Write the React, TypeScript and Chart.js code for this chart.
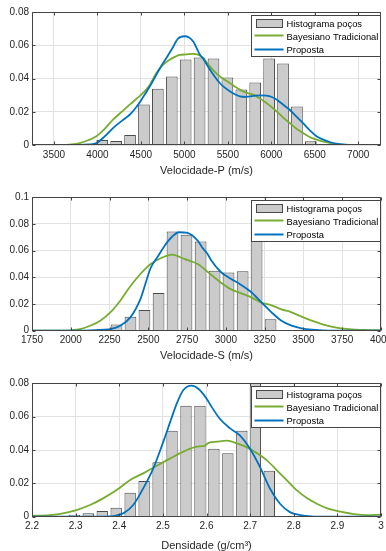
import React, { useEffect, useRef } from "react";
import { Chart, registerables } from "chart.js";

Chart.register(...registerables);

const FONT_FAMILY = '"Liberation Sans", Arial, Helvetica, sans-serif';
const TEXT_COLOR = "#262626";
const AXIS_COLOR = "#444444";
const GRID_COLOR = "#e2e2e2";
const BAR_FILL = "#cbcbcb";
const BAR_EDGE = "#4a4a4a";
const GREEN = "#77ac30";
const BLUE = "#0072bd";

const LEGEND_LABELS = ["Histograma poços", "Bayesiano Tradicional", "Proposta"];

// ---- Velocidade-P ----
const pTicks = [3500, 4000, 4500, 5000, 5500, 6000, 6500, 7000];
const pBinCenters = [4055, 4215, 4375, 4535, 4695, 4855, 5015, 5175, 5335, 5495, 5655, 5815, 5975, 6135, 6295, 6455, 6615];
const pHistogram = [0.003, 0.0024, 0.006, 0.0244, 0.0338, 0.0412, 0.0514, 0.0526, 0.052, 0.0406, 0.0334, 0.0376, 0.052, 0.049, 0.0232, 0.0022, 0.0004];
const pBayesX = [3247, 3600, 3700, 3796, 3900, 3988, 4080, 4179, 4280, 4371, 4450, 4524, 4600, 4678, 4750, 4831, 4890, 4946, 5020, 5100, 5150, 5215, 5292, 5350, 5407, 5465, 5522, 5580, 5637, 5710, 5790, 5870, 5944, 6000, 6059, 6130, 6212, 6290, 6365, 6440, 6520, 6600, 6673, 6750, 6850, 7000, 7262];
const pBayesY = [0, 0, 0.0004, 0.0012, 0.003, 0.0052, 0.0095, 0.0152, 0.02, 0.0243, 0.0278, 0.0313, 0.036, 0.0433, 0.048, 0.0513, 0.053, 0.0542, 0.0545, 0.0548, 0.0545, 0.0523, 0.0473, 0.044, 0.0413, 0.0393, 0.0373, 0.0352, 0.0333, 0.0315, 0.0303, 0.028, 0.0253, 0.023, 0.0203, 0.0168, 0.0132, 0.0098, 0.0072, 0.0048, 0.0032, 0.002, 0.0012, 0.0005, 0.0001, 0, 0];
const pPropostaX = [3247, 3800, 3900, 3988, 4080, 4179, 4280, 4371, 4450, 4524, 4600, 4678, 4740, 4793, 4860, 4927, 5004, 5050, 5100, 5177, 5215, 5292, 5350, 5407, 5465, 5522, 5580, 5637, 5710, 5790, 5870, 5944, 6000, 6059, 6130, 6212, 6290, 6365, 6440, 6520, 6600, 6673, 6750, 6826, 6900, 7000, 7262];
const pPropostaY = [0, 0, 0.0003, 0.0012, 0.005, 0.0102, 0.0145, 0.0182, 0.023, 0.0287, 0.035, 0.0423, 0.048, 0.0523, 0.058, 0.064, 0.0654, 0.0648, 0.0624, 0.0545, 0.052, 0.0455, 0.041, 0.0373, 0.0345, 0.0323, 0.0305, 0.0293, 0.029, 0.0295, 0.0299, 0.0297, 0.029, 0.0273, 0.0245, 0.0212, 0.017, 0.0132, 0.009, 0.0052, 0.0032, 0.0018, 0.0008, 0.0003, 0.0001, 0, 0];

// ---- Velocidade-S ----
const sTicks = [1750, 2000, 2250, 2500, 2750, 3000, 3250, 3500, 3750, 4000];
const sBinCenters = [2114, 2204, 2295, 2385, 2475, 2566, 2656, 2746, 2837, 2927, 3017, 3108, 3198, 3288];
const sHistogram = [0.0008, 0.0015, 0.0047, 0.0105, 0.0155, 0.0283, 0.0743, 0.072, 0.0668, 0.045, 0.0437, 0.0445, 0.0843, 0.0085];
const sBayesX = [1750, 1951, 2000, 2060, 2125, 2190, 2255, 2319, 2384, 2449, 2515, 2580, 2655, 2731, 2818, 2904, 2969, 3034, 3099, 3164, 3229, 3294, 3358, 3423, 3488, 3553, 3618, 3704, 3791, 3921, 4000];
const sBayesY = [0, 0, 0.0003, 0.0012, 0.0037, 0.0075, 0.0137, 0.0225, 0.0333, 0.0425, 0.05, 0.0543, 0.057, 0.0538, 0.05, 0.042, 0.036, 0.031, 0.028, 0.025, 0.021, 0.019, 0.016, 0.0138, 0.0105, 0.0075, 0.005, 0.0025, 0.0012, 0.0005, 0.0003];
const sPropostaX = [1750, 2050, 2168, 2255, 2319, 2384, 2449, 2515, 2558, 2601, 2645, 2698, 2753, 2818, 2850, 2882, 2904, 2969, 3034, 3099, 3164, 3229, 3294, 3358, 3423, 3488, 3553, 3620, 3700, 4000];
const sPropostaY = [0, 0, 0.0005, 0.0012, 0.0037, 0.01, 0.0237, 0.047, 0.055, 0.063, 0.0695, 0.0738, 0.0733, 0.0675, 0.062, 0.0575, 0.053, 0.0438, 0.0388, 0.0343, 0.0288, 0.0213, 0.0138, 0.0075, 0.0038, 0.0018, 0.0007, 0.0002, 0, 0];

// ---- Densidade ----
const dTicks = [2.2, 2.3, 2.4, 2.5, 2.6, 2.7, 2.8, 2.9, 3];
const dBinCenters = [2.265, 2.297, 2.329, 2.361, 2.393, 2.425, 2.457, 2.489, 2.521, 2.553, 2.585, 2.617, 2.649, 2.681, 2.712, 2.744, 2.776];
const dHistogram = [0.0004, 0.0011, 0.002, 0.0034, 0.0054, 0.0144, 0.0214, 0.0326, 0.0516, 0.0666, 0.0666, 0.0408, 0.038, 0.0516, 0.08, 0.0276, 0.0002];
const dBayesX = [2.2, 2.241, 2.271, 2.302, 2.333, 2.363, 2.394, 2.425, 2.455, 2.486, 2.517, 2.547, 2.578, 2.595, 2.605, 2.624, 2.647, 2.67, 2.693, 2.716, 2.739, 2.762, 2.785, 2.808, 2.831, 2.854, 2.877, 2.907, 2.938, 2.969, 3];
const dBayesY = [0.0005, 0.001, 0.002, 0.004, 0.007, 0.011, 0.016, 0.022, 0.026, 0.0306, 0.035, 0.039, 0.042, 0.0425, 0.0443, 0.045, 0.0456, 0.044, 0.0416, 0.038, 0.0336, 0.0276, 0.0216, 0.0156, 0.011, 0.0076, 0.005, 0.003, 0.0016, 0.001, 0.0012];
const dPropostaX = [2.2, 2.34, 2.386, 2.409, 2.432, 2.455, 2.478, 2.501, 2.517, 2.532, 2.547, 2.566, 2.582, 2.601, 2.609, 2.631, 2.654, 2.677, 2.7, 2.723, 2.746, 2.769, 2.792, 2.815, 2.84, 2.87, 3];
const dPropostaY = [0, 0, 0.0004, 0.002, 0.007, 0.017, 0.029, 0.045, 0.057, 0.068, 0.076, 0.0786, 0.0766, 0.0705, 0.067, 0.0586, 0.053, 0.0486, 0.0406, 0.0296, 0.0166, 0.0076, 0.0026, 0.001, 0.0002, 0, 0];

const yTicks08 = [0, 0.02, 0.04, 0.06, 0.08];
const yTicks10 = [0, 0.02, 0.04, 0.06, 0.08, 0.1];

const toPoints = (xs: number[], ys: number[]) => xs.map((x, i) => ({ x, y: ys[i] }));

// Axes box with inward ticks, plus the boxed legend in the upper right corner
const framePlugin = {
  id: "matlabFrame",
  afterDraw(chart: any) {
    const { ctx, chartArea: a, scales } = chart;
    const L = Math.round(a.left) + 0.5;
    const R = Math.round(a.right) - 0.5;
    const T = Math.round(a.top) + 0.5;
    const B = Math.round(a.bottom) - 0.5;
    ctx.save();
    ctx.strokeStyle = AXIS_COLOR;
    ctx.lineWidth = 1;
    ctx.beginPath();
    ctx.rect(L, T, R - L, B - T);
    const tick = 3;
    for (const t of scales.x.ticks) {
      const x = Math.round(scales.x.getPixelForValue(t.value)) + 0.5;
      ctx.moveTo(x, B);
      ctx.lineTo(x, B - tick);
      ctx.moveTo(x, T);
      ctx.lineTo(x, T + tick);
    }
    for (const t of scales.y.ticks) {
      const y = Math.round(scales.y.getPixelForValue(t.value)) + 0.5;
      ctx.moveTo(L, y);
      ctx.lineTo(L + tick, y);
      ctx.moveTo(R, y);
      ctx.lineTo(R - tick, y);
    }
    ctx.stroke();

    // legend
    const lw = 130;
    const lh = 41;
    const lx = Math.round(a.right - lw) + 0.5;
    const ly = Math.round(a.top + 2.5) + 0.5;
    ctx.fillStyle = "#ffffff";
    ctx.fillRect(lx, ly, lw - 1, lh);
    ctx.strokeStyle = AXIS_COLOR;
    ctx.strokeRect(lx, ly, lw - 1, lh);

    ctx.fillStyle = BAR_FILL;
    ctx.fillRect(lx + 5, ly + 4, 26, 8);
    ctx.strokeStyle = BAR_EDGE;
    ctx.strokeRect(lx + 5, ly + 4, 26, 8);

    ctx.lineWidth = 2;
    ctx.strokeStyle = GREEN;
    ctx.beginPath();
    ctx.moveTo(lx + 3, ly + 20);
    ctx.lineTo(lx + 32, ly + 20);
    ctx.stroke();
    ctx.strokeStyle = BLUE;
    ctx.beginPath();
    ctx.moveTo(lx + 3, ly + 34);
    ctx.lineTo(lx + 32, ly + 34);
    ctx.stroke();

    ctx.fillStyle = "#000000";
    ctx.font = `9.4px ${FONT_FAMILY}`;
    ctx.textBaseline = "middle";
    ctx.textAlign = "left";
    ctx.fillText(LEGEND_LABELS[0], lx + 35, ly + 9);
    ctx.fillText(LEGEND_LABELS[1], lx + 35, ly + 21.5);
    ctx.fillText(LEGEND_LABELS[2], lx + 35, ly + 35);
    ctx.restore();
  },
};

type PanelProps = {
  top: number;
  height: number;
  padTop: number;
  axisHeight: number;
  titlePad: number;
  title: string;
  xMin: number;
  xMax: number;
  xTicks: number[];
  xDecimals: number;
  yMax: number;
  yTicks: number[];
  centers: number[];
  hist: number[];
  bayesX: number[];
  bayesY: number[];
  propX: number[];
  propY: number[];
};

function Panel(p: PanelProps) {
  const ref = useRef<HTMLCanvasElement>(null);
  useEffect(() => {
    if (!ref.current) return;
    const tickFont = { family: FONT_FAMILY, size: 10 };
    const chart = new Chart(ref.current, {
      type: "bar",
      data: {
        datasets: [
          {
            type: "bar",
            label: LEGEND_LABELS[0],
            data: toPoints(p.centers, p.hist),
            backgroundColor: BAR_FILL,
            borderColor: BAR_EDGE,
            borderWidth: 1,
            barPercentage: 0.84,
            categoryPercentage: 1,
            order: 3,
          } as any,
          {
            type: "line",
            label: LEGEND_LABELS[1],
            data: toPoints(p.bayesX, p.bayesY),
            borderColor: GREEN,
            borderWidth: 1.8,
            pointRadius: 0,
            cubicInterpolationMode: "monotone",
            order: 2,
          } as any,
          {
            type: "line",
            label: LEGEND_LABELS[2],
            data: toPoints(p.propX, p.propY),
            borderColor: BLUE,
            borderWidth: 1.8,
            pointRadius: 0,
            cubicInterpolationMode: "monotone",
            order: 1,
          } as any,
        ],
      },
      options: {
        responsive: false,
        animation: false,
        devicePixelRatio: 1,
        events: [],
        layout: { padding: { top: p.padTop, right: 5, left: 0, bottom: 0 } },
        plugins: { legend: { display: false }, tooltip: { enabled: false } },
        scales: {
          x: {
            type: "linear",
            min: p.xMin,
            max: p.xMax,
            offset: false,
            grid: { offset: false, color: GRID_COLOR, drawTicks: false },
            border: { display: false },
            ticks: {
              padding: 4,
              color: TEXT_COLOR,
              font: tickFont,
              maxRotation: 0,
              autoSkip: false,
              callback: (v: any) => String(+Number(v).toFixed(p.xDecimals)),
            },
            afterBuildTicks: (s: any) => {
              s.ticks = p.xTicks.map((value) => ({ value }));
            },
            afterFit: (s: any) => {
              s.height = p.axisHeight;
              s.paddingLeft = 0;
              s.paddingRight = 0;
            },
            title: {
              display: true,
              text: p.title,
              color: TEXT_COLOR,
              font: { family: FONT_FAMILY, size: 11 },
              padding: { top: 0, bottom: p.titlePad },
            },
          },
          y: {
            type: "linear",
            min: 0,
            max: p.yMax,
            grid: { color: GRID_COLOR, drawTicks: false },
            border: { display: false },
            ticks: {
              padding: 3,
              color: TEXT_COLOR,
              font: tickFont,
              callback: (v: any) => String(+Number(v).toFixed(2)),
            },
            afterBuildTicks: (s: any) => {
              s.ticks = p.yTicks.map((value) => ({ value }));
            },
            afterFit: (s: any) => {
              s.width = 32;
              s.paddingTop = 0;
              s.paddingBottom = 0;
            },
          },
        },
      } as any,
      plugins: [framePlugin],
    });
    return () => chart.destroy();
  }, []);
  return (
    <canvas
      ref={ref}
      width={386}
      height={p.height}
      style={{ position: "absolute", left: 0, top: p.top, width: 386, height: p.height }}
    />
  );
}

export default function App() {
  return (
    <div
      style={{
        position: "fixed",
        left: 0,
        top: 0,
        width: 386,
        height: 551,
        overflow: "hidden",
        background: "#ffffff",
      }}
    >
      <Panel
        top={0}
        height={185}
        padTop={12}
        axisHeight={40}
        titlePad={7.7}
        title="Velocidade-P (m/s)"
        xMin={3247}
        xMax={7262}
        xTicks={pTicks}
        xDecimals={0}
        yMax={0.08}
        yTicks={yTicks08}
        centers={pBinCenters}
        hist={pHistogram}
        bayesX={pBayesX}
        bayesY={pBayesY}
        propX={pPropostaX}
        propY={pPropostaY}
      />
      <Panel
        top={185}
        height={180}
        padTop={12.3}
        axisHeight={34.3}
        titlePad={2.9}
        title="Velocidade-S (m/s)"
        xMin={1750}
        xMax={4000}
        xTicks={sTicks}
        xDecimals={0}
        yMax={0.1}
        yTicks={yTicks10}
        centers={sBinCenters}
        hist={sHistogram}
        bayesX={sBayesX}
        bayesY={sBayesY}
        propX={sPropostaX}
        propY={sPropostaY}
      />
      <Panel
        top={365}
        height={195}
        padTop={18.3}
        axisHeight={43.3}
        titlePad={7.7}
        title="Densidade (g/cm³)"
        xMin={2.2}
        xMax={3}
        xTicks={dTicks}
        xDecimals={1}
        yMax={0.08}
        yTicks={yTicks08}
        centers={dBinCenters}
        hist={dHistogram}
        bayesX={dBayesX}
        bayesY={dBayesY}
        propX={dPropostaX}
        propY={dPropostaY}
      />
    </div>
  );
}
